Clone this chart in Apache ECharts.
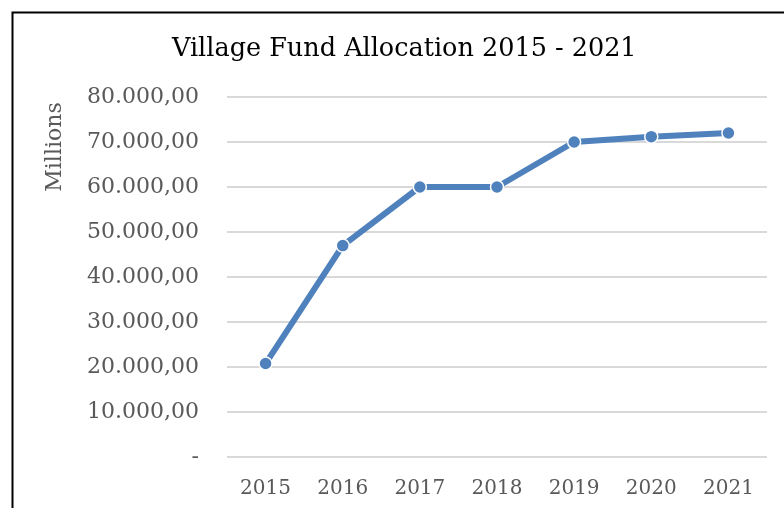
<!DOCTYPE html>
<html>
<head>
<meta charset="utf-8">
<script src="https://cdn.jsdelivr.net/npm/echarts@6/dist/echarts.min.js"></script>
<style>
  html, body { margin: 0; padding: 0; background: #fff; }
  #chart { width: 784px; height: 508px; }
</style>
</head>
<body>
<div id="chart"></div>
<script>
// Dana Desa (village fund), in millions of rupiah
var years = ["2015", "2016", "2017", "2018", "2019", "2020", "2021"];
var allocation = [20766, 46982, 60000, 60000, 70000, 71190, 72000];
var yTicks = [0, 10000, 20000, 30000, 40000, 50000, 60000, 70000, 80000];

var serif = "'DejaVu Serif', 'Liberation Serif', serif";

function fmt(v) {
  if (v === 0) return "-";
  var s = String(v).replace(/\B(?=(\d{3})+(?!\d))/g, ".");
  return s + ",00";
}

var chart = echarts.init(document.getElementById("chart"));
chart.setOption({
  animation: false,
  backgroundColor: "#fff",
  title: {
    text: "Village Fund Allocation 2015 - 2021",
    left: 167,
    top: 31,
    textStyle: {
      fontFamily: serif,
      fontWeight: "normal",
      fontSize: 25.5,
      color: "#000"
    }
  },
  graphic: [
    {
      type: "rect",
      left: 10,
      top: 10,
      shape: { width: 820, height: 560 },
      style: { fill: null, stroke: "#000", lineWidth: 2 },
      silent: true
    },
    {
      type: "text",
      x: 55,
      y: 147,
      rotation: Math.PI / 2,
      style: {
        text: "Millions",
        fontFamily: serif,
        fontSize: 22,
        fill: "#595959",
        align: "center",
        verticalAlign: "middle"
      }
    }
  ],
  grid: {
    left: 227,
    right: 17,
    top: 97,
    bottom: 51
  },
  xAxis: {
    type: "category",
    data: years,
    boundaryGap: true,
    axisLine: { show: false },
    axisTick: { show: false },
    axisLabel: {
      margin: 22,
      fontFamily: serif,
      fontSize: 20,
      color: "#595959"
    }
  },
  yAxis: {
    type: "value",
    min: yTicks[0],
    max: yTicks[yTicks.length - 1],
    interval: 10000,
    axisLine: { show: false },
    axisTick: { show: false },
    splitLine: { lineStyle: { color: "#d9d9d9", width: 2 } },
    axisLabel: {
      margin: 28,
      fontFamily: serif,
      fontSize: 22,
      color: "#595959",
      formatter: fmt
    }
  },
  series: [
    {
      type: "line",
      data: allocation,
      symbol: "circle",
      symbolSize: 13,
      lineStyle: { color: "#4f81bd", width: 6 },
      itemStyle: { color: "#4f81bd", borderColor: "#fff", borderWidth: 1.5 }
    }
  ]
});
</script>
</body>
</html>
